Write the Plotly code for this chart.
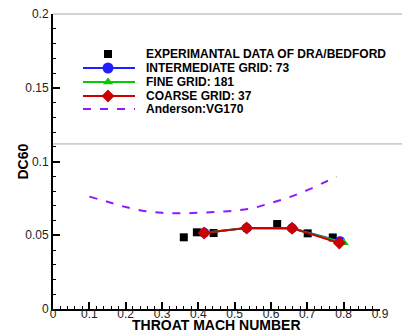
import plotly.graph_objects as go

# ---------------- data ----------------
exp_x = [0.360, 0.396, 0.442, 0.617, 0.701, 0.770]
exp_y = [0.0486, 0.0520, 0.0515, 0.0576, 0.0513, 0.0485]

inter_x = [0.416, 0.533, 0.658, 0.790]
inter_y = [0.0517, 0.0549, 0.0547, 0.0460]

fine_x = [0.416, 0.533, 0.658, 0.800]
fine_y = [0.0517, 0.0549, 0.0545, 0.0450]

coarse_x = [0.416, 0.533, 0.658, 0.788]
coarse_y = [0.0515, 0.0550, 0.0548, 0.0447]

and_x = [0.10, 0.15, 0.20, 0.25, 0.30, 0.35, 0.40, 0.45, 0.50, 0.55, 0.60, 0.65, 0.70, 0.75, 0.78]
and_y = [0.0762, 0.0727, 0.0691, 0.0665, 0.0652, 0.0649, 0.0652, 0.0659, 0.0667, 0.0684, 0.0719, 0.0758, 0.0806, 0.0862, 0.0897]

legend_labels = ["EXPERIMANTAL DATA OF DRA/BEDFORD", "INTERMEDIATE GRID: 73",
                 "FINE GRID: 181", "COARSE GRID: 37", "Anderson:VG170"]

x_ticks = [0, 0.1, 0.2, 0.3, 0.4, 0.5, 0.6, 0.7, 0.8, 0.9]
x_tick_text = ["0", "0.1", "0.2", "0.3", "0.4", "0.5", "0.6", "0.7", "0.8", "0.9"]
y_ticks = [0, 0.05, 0.1, 0.15, 0.2]
y_tick_text = ["0", "0.05", "0.1", "0.15", "0.2"]

x_title = "THROAT MACH NUMBER"
y_title = "DC60"

# ---------------- styles ----------------
BLUE = "#1f1fff"
GREEN = "#00cc00"
RED = "#cc0000"
PURPLE = "#8a1cff"
FONT = "Liberation Sans, Arial, sans-serif"

W, H = 402, 335
ML, MR, MT, MB = 53, 22, 14, 26
PW, PH = W - ML - MR, H - MT - MB

fig = go.Figure()

fig.add_trace(go.Scatter(x=and_x, y=and_y, mode="lines", line=dict(color=PURPLE, width=2, dash="8px,9px", shape="spline"),
                         showlegend=False))
fig.add_trace(go.Scatter(x=exp_x, y=exp_y, mode="markers",
                         marker=dict(symbol="square", size=8, color="black"), showlegend=False))
fig.add_trace(go.Scatter(x=inter_x, y=inter_y, mode="lines+markers", line=dict(color=BLUE, width=2),
                         marker=dict(symbol="circle", size=10, color=BLUE), showlegend=False))
fig.add_trace(go.Scatter(x=fine_x, y=fine_y, mode="lines+markers", line=dict(color=GREEN, width=2),
                         marker=dict(symbol="triangle-up", size=9, color=GREEN), showlegend=False))
fig.add_trace(go.Scatter(x=coarse_x, y=coarse_y, mode="lines+markers", line=dict(color=RED, width=2),
                         marker=dict(symbol="diamond", size=10, color=RED), showlegend=False))

# ---------------- manual legend (overlay axis in pixel units) ----------------
leg_rows = [54, 68, 82, 96, 109]
leg_line_x = [83, 108, 135]
leg_specs = [
    dict(line=None, symbol="square", size=8, color="black"),
    dict(line=BLUE, symbol="circle", size=11, color=BLUE),
    dict(line=GREEN, symbol="triangle-up", size=9, color=GREEN),
    dict(line=RED, symbol="diamond", size=10, color=RED),
    dict(line="dash", symbol=None, size=0, color=PURPLE),
]
for row, spec in zip(leg_rows, leg_specs):
    if spec["line"] == "dash":
        fig.add_trace(go.Scatter(x=[leg_line_x[0], leg_line_x[2]], y=[row, row], mode="lines",
                                 line=dict(color=PURPLE, width=2, dash="8px,9px"),
                                 xaxis="x2", yaxis="y2", showlegend=False, hoverinfo="skip"))
    else:
        if spec["line"]:
            fig.add_trace(go.Scatter(x=[leg_line_x[0], leg_line_x[2]], y=[row, row], mode="lines",
                                     line=dict(color=spec["line"], width=2),
                                     xaxis="x2", yaxis="y2", showlegend=False, hoverinfo="skip"))
        fig.add_trace(go.Scatter(x=[leg_line_x[1]], y=[row], mode="markers",
                                 marker=dict(symbol=spec["symbol"], size=spec["size"], color=spec["color"]),
                                 xaxis="x2", yaxis="y2", showlegend=False, hoverinfo="skip"))

annotations = []
for row, label in zip(leg_rows, legend_labels):
    annotations.append(dict(x=144, y=row, xref="x2", yref="y2", text="<b>%s</b>" % label,
                            showarrow=False, xanchor="left", yanchor="middle",
                            font=dict(family=FONT, size=12, color="black")))

# axis titles
annotations.append(dict(x=0.5, y=-(H - 1 - (H - MB)) / PH, xref="paper", yref="paper",
                        text="<b>%s</b>" % x_title, showarrow=False, xanchor="center", yanchor="bottom",
                        borderpad=0, font=dict(family=FONT, size=14, color="black")))
annotations.append(dict(x=-(ML - 22) / PW, y=0.5, xref="paper", yref="paper", textangle=-90,
                        text="<b>%s</b>" % y_title, showarrow=False, xanchor="center", yanchor="middle",
                        font=dict(family=FONT, size=14, color="black")))

shapes = [
    dict(type="line", xref="paper", yref="paper", x0=0, x1=(W - ML) / PW, y0=1, y1=1,
         line=dict(color="#a8a8a8", width=1), layer="below"),
    dict(type="line", xref="paper", yref="y", x0=0, x1=(W - ML) / PW, y0=0.1119, y1=0.1119,
         line=dict(color="#a8a8a8", width=1), layer="below"),
]

fig.update_layout(
    width=W, height=H,
    margin=dict(l=ML, r=MR, t=MT, b=MB, pad=0, autoexpand=False),
    paper_bgcolor="white", plot_bgcolor="white",
    showlegend=False,
    font=dict(family=FONT, color="#222"),
    xaxis=dict(range=[0, 0.9], tickvals=x_ticks, ticktext=x_tick_text, ticks="inside", ticklen=7,
               tickwidth=1.5, tickcolor="black", showline=True, linecolor="black", linewidth=2,
               showgrid=False, zeroline=False, tickfont=dict(size=12, color="#222"), automargin=False,
               ticklabelstandoff=-7,
               minor=dict(dtick=0.02, ticks="inside", ticklen=3, tickwidth=1, tickcolor="black", showgrid=False)),
    yaxis=dict(range=[0, 0.2], tickvals=y_ticks, ticktext=y_tick_text, ticks="inside", ticklen=7,
               tickwidth=1.5, tickcolor="black", showline=True, linecolor="black", linewidth=2,
               showgrid=False, zeroline=False, tickfont=dict(size=12, color="#222"), automargin=False,
               minor=dict(dtick=0.01, ticks="inside", ticklen=3, tickwidth=1, tickcolor="black", showgrid=False)),
    xaxis2=dict(range=[ML, W - MR], overlaying="x", visible=False, fixedrange=True, automargin=False),
    yaxis2=dict(range=[H - MB, MT], overlaying="y", visible=False, fixedrange=True, automargin=False),
    annotations=annotations,
    shapes=shapes,
)

fig.write_html("out.html", config={"displayModeBar": False},
               post_script="document.body.style.margin='0';document.body.style.padding='0';")
